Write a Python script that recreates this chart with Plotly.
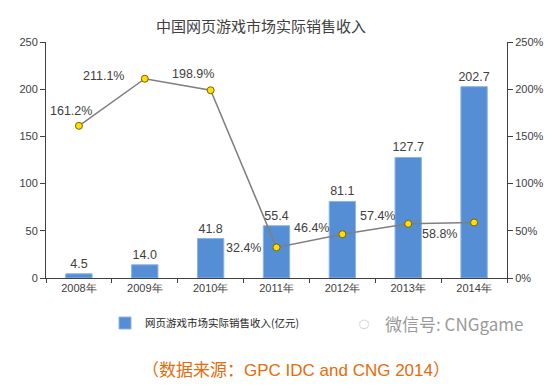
import plotly.graph_objects as go

years = ["2008年", "2009年", "2010年", "2011年", "2012年", "2013年", "2014年"]
revenue = [4.5, 14.0, 41.8, 55.4, 81.1, 127.7, 202.7]
growth = [161.2, 211.1, 198.9, 32.4, 46.4, 57.4, 58.8]
y_ticks = [0, 50, 100, 150, 200, 250]
y2_ticks = [0, 50, 100, 150, 200, 250]
y2_labels = [f"{v}%" for v in y2_ticks]

# label offsets (px) for growth labels, relative to each point
lab_dx = [-8, -41, -18, -33, -31, -31, -35]
lab_dy = [15, 3, 16, -1, 6, 8, -12]

W, H = 558, 388
L, R, T, B = 46, 51, 42, 110

fig = go.Figure()
fig.add_trace(go.Bar(
    x=years, y=revenue, name="网页游戏市场实际销售收入(亿元)",
    marker=dict(color="#558ED5", line=dict(color="#8DB4E2", width=1)),
    text=[f"{v:.1f}" for v in revenue], textposition="outside",
    textfont=dict(family="Arial", size=12.5, color="#404040"),
    constraintext="none", cliponaxis=False,
))
fig.add_trace(go.Scatter(
    x=years, y=growth, yaxis="y2", name="增长率", mode="lines+markers",
    line=dict(color="#7F7F7F", width=1.5),
    marker=dict(color="#FFE000", size=7, line=dict(color="#7F6000", width=1)),
    showlegend=False,
))

for yr, g, dx, dy in zip(years, growth, lab_dx, lab_dy):
    fig.add_annotation(x=yr, y=g, yref="y2", text=f"{g:.1f}%", showarrow=False,
                       xshift=dx, yshift=dy,
                       font=dict(family="Arial", size=12.5, color="#404040"))

pw = W - L - R
ph = H - T - B
fig.add_annotation(xref="paper", yref="paper", x=(383 - L) / pw, y=(278 - 323) / ph,
                   xanchor="left", yanchor="middle", showarrow=False,
                   text="微信号: CNGgame",
                   font=dict(family="Noto Sans CJK SC", size=17, color="#9A9A9A"))
fig.add_annotation(xref="paper", yref="paper", x=(364 - L) / pw, y=(278 - 323) / ph,
                   xanchor="center", yanchor="middle", showarrow=False,
                   text="◌", font=dict(size=20, color="#B0B0B0"))
fig.add_annotation(xref="paper", yref="paper", x=(296 - L) / pw, y=(278 - 370) / ph,
                   xanchor="center", yanchor="middle", showarrow=False,
                   text="（数据来源：GPC IDC and CNG 2014）",
                   font=dict(family="Arial, Noto Sans CJK SC", size=17, color="#E46C0A"))

fig.update_layout(
    width=W, height=H,
    margin=dict(l=L, r=R, t=T, b=B, autoexpand=False),
    paper_bgcolor="white", plot_bgcolor="white",
    title=dict(text="中国网页游戏市场实际销售收入", x=261 / W, xanchor="center",
               y=1 - 27 / H, yanchor="middle",
               font=dict(family="Noto Sans CJK SC", size=15, color="#404040")),
    bargap=0.6,
    showlegend=True,
    legend=dict(x=(105 - L) / pw, y=(278 - 323) / ph, xanchor="left", yanchor="middle",
                font=dict(family="Noto Sans CJK SC", size=10.5, color="#262626"),
                bgcolor="rgba(0,0,0,0)", itemwidth=30),
    font=dict(family="Arial", color="#404040"),
    xaxis=dict(showline=True, linecolor="#404040", linewidth=1, ticks="outside",
               tickson="boundaries", ticklen=4, tickcolor="#404040",
               tickfont=dict(family="Arial", size=11, color="#404040"),
               showgrid=False),
    yaxis=dict(range=[0, 250], tickvals=y_ticks, showline=True, linecolor="#404040",
               ticks="outside", ticklen=5, tickcolor="#404040", showgrid=False,
               zeroline=False,
               tickfont=dict(family="Arial", size=11, color="#404040")),
    yaxis2=dict(range=[0, 250], tickvals=y2_ticks, ticktext=y2_labels, overlaying="y",
                side="right", showline=True, linecolor="#404040", ticks="outside",
                ticklen=5, tickcolor="#404040", showgrid=False, zeroline=False,
                tickfont=dict(family="Arial", size=11, color="#404040")),
)

fig.write_html("out.html", config={"displayModeBar": False},
               post_script="document.body.style.margin='0';document.body.style.padding='0';")
